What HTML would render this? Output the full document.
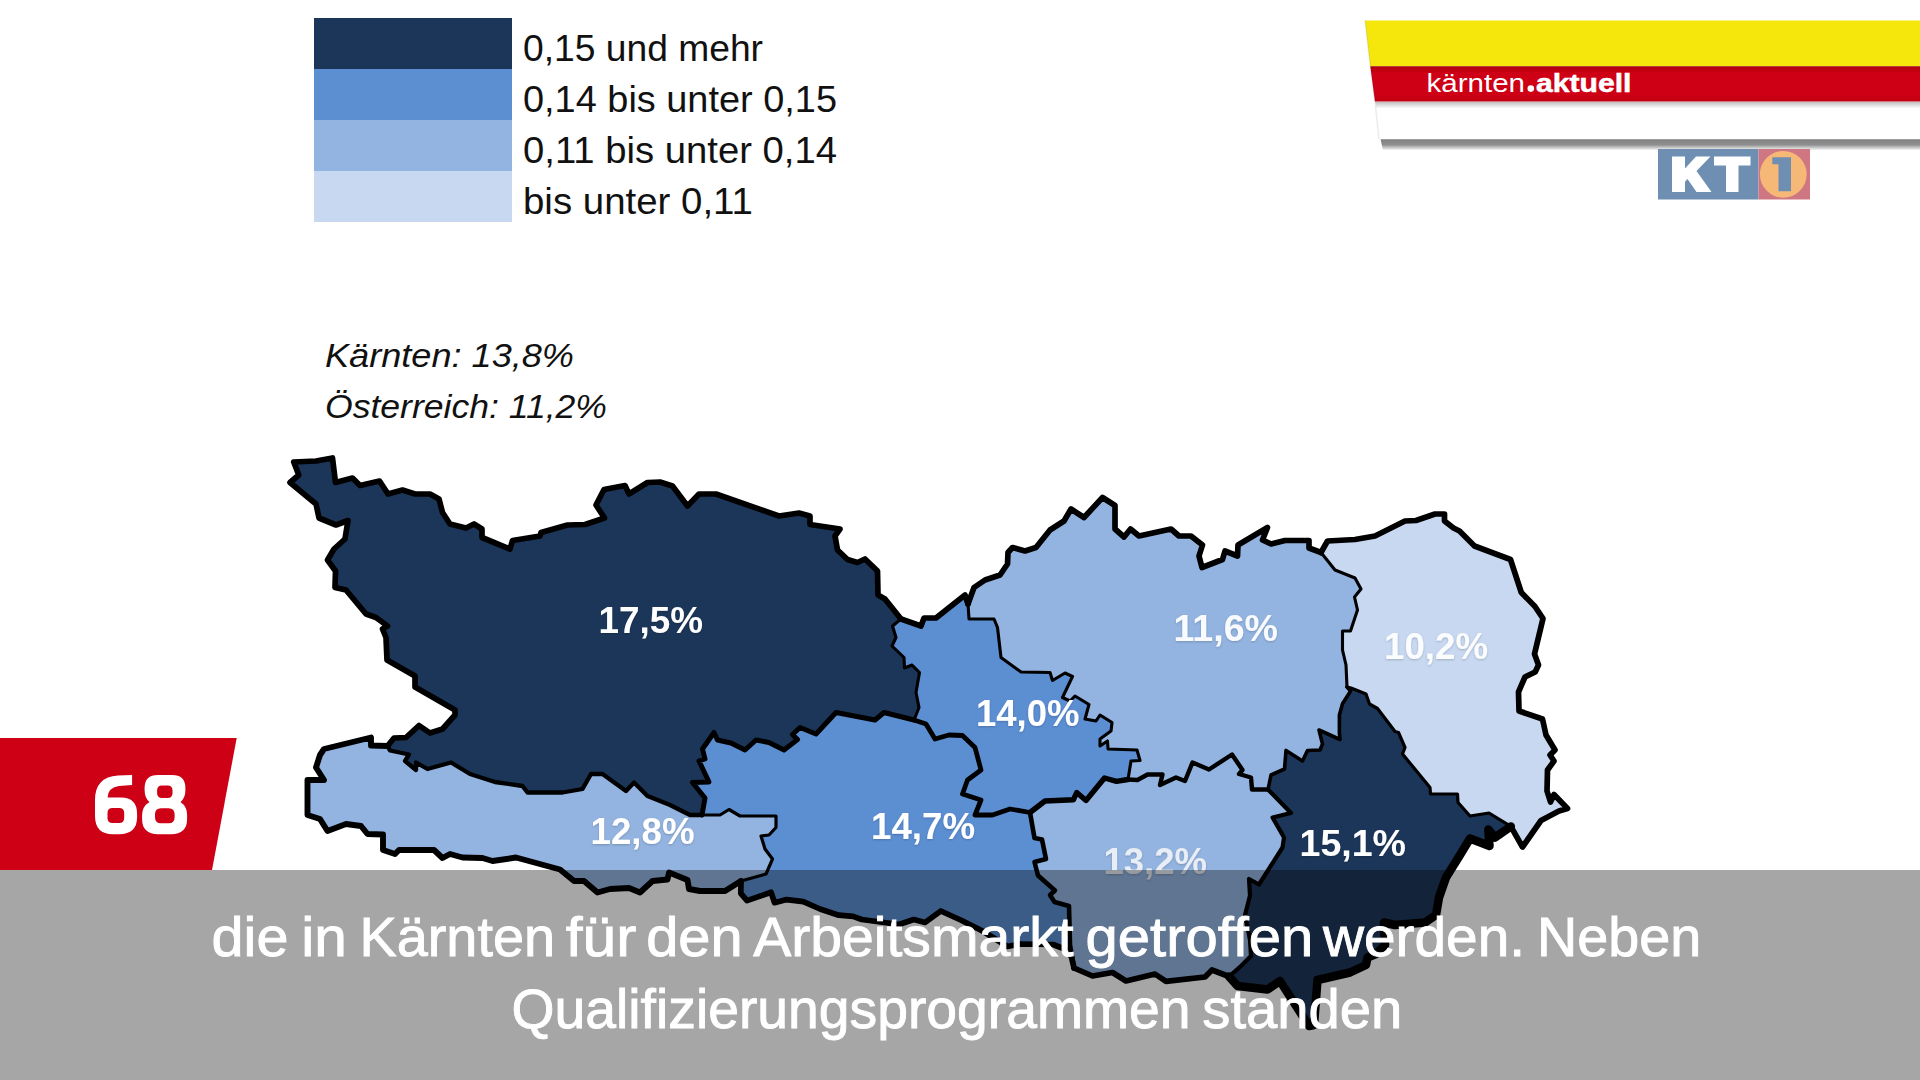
<!DOCTYPE html>
<html><head><meta charset="utf-8"><title>kärnten.aktuell</title>
<style>
html,body{margin:0;padding:0;background:#fff;}
body{width:1920px;height:1080px;position:relative;overflow:hidden;font-family:"Liberation Sans",sans-serif;}
svg{position:absolute;left:0;top:0;}
text{font-family:"Liberation Sans",sans-serif;}
.lbl{paint-order:stroke;}
#overlay{position:absolute;left:0;top:870px;width:1920px;height:210px;background:rgba(0,0,0,0.35);}
</style></head><body>
<svg id="main" width="1920" height="1080" viewBox="0 0 1920 1080">
<defs>
<linearGradient id="shd" x1="0" y1="0" x2="0" y2="1"><stop offset="0" stop-color="#000" stop-opacity="0.5"/><stop offset="0.5" stop-color="#000" stop-opacity="0.44"/><stop offset="1" stop-color="#000" stop-opacity="0"/></linearGradient>
<linearGradient id="shd2" x1="0" y1="0" x2="0" y2="1"><stop offset="0" stop-color="#000" stop-opacity="0.25"/><stop offset="1" stop-color="#000" stop-opacity="0"/></linearGradient>
<linearGradient id="redg" x1="0" y1="0" x2="0" y2="1"><stop offset="0" stop-color="#a8000c"/><stop offset="0.18" stop-color="#ce0016"/><stop offset="0.8" stop-color="#ce0016"/><stop offset="1" stop-color="#be0010"/></linearGradient>
<filter id="ts" x="-5%" y="-20%" width="110%" height="140%"><feDropShadow dx="0" dy="1" stdDeviation="1.2" flood-color="#000" flood-opacity="0.2"/></filter>
</defs>
<!-- legend -->
<rect x="314" y="18" width="198" height="51.5" fill="#1c3659"/>
<rect x="314" y="69" width="198" height="51.5" fill="#5c8ed2"/>
<rect x="314" y="120" width="198" height="51.5" fill="#93b4e0"/>
<rect x="314" y="171" width="198" height="51" fill="#c7d8f0"/>
<g font-size="36" fill="#111">
<text x="523" y="60.7" textLength="240" lengthAdjust="spacingAndGlyphs">0,15 und mehr</text>
<text x="523" y="112" textLength="314" lengthAdjust="spacingAndGlyphs">0,14 bis unter 0,15</text>
<text x="523" y="163" textLength="314" lengthAdjust="spacingAndGlyphs">0,11 bis unter 0,14</text>
<text x="523" y="214" textLength="230" lengthAdjust="spacingAndGlyphs">bis unter 0,11</text>
</g>
<g font-size="33" font-style="italic" fill="#111">
<text x="325" y="367" textLength="249" lengthAdjust="spacingAndGlyphs">Kärnten: 13,8%</text>
<text x="325" y="418.3" textLength="282" lengthAdjust="spacingAndGlyphs">Österreich: 11,2%</text>
</g>
<!-- map -->
<g id="map">
<polygon points="387.5,746 394,738 406,737.5 419,725.5 430,733 442.5,729 455,715 455,710 415,687 415,676 387,660 386,637.5 382.5,629 387.5,626 376,617.5 366,614 346,590 335,587.5 335.5,571 327.5,560 334,549 345,539 348,520.5 336,525 319,518 316,504 290,482.5 298.75,475 293.75,462 316,461 332.5,458 335.5,482.5 352.5,478 360,485.5 379.5,481 388,494 402.5,490 415,494 430,494 439,499 442.5,512.5 450,524 466,528 474,524 482,529 482,537.5 510,549 512.5,540.5 540,536 541,532.5 567.5,525 585,524.5 604.5,518 596,505 604,489.5 625,485.5 629,494 647.5,482.5 660,482 672.5,486 687.5,506 699,494 716,494 779,516 799,513 810,516 810,524.5 840,529 835,536 837.5,550 847.5,559.5 857.5,562.5 865,559 877.5,571 878,595 885,599 901,619 901,619 892.5,626 896,637.5 892,646 904,657.5 904.5,668 912,665 919.5,672.5 916,692.5 919,707.5 914,720 914,720 884,712.5 875,720 836,712.5 816,734 800,727.5 792.5,734.5 797.5,739.5 784,750 769,742.5 756,740 745,750 731,743 717.5,740 714,732.5 702.5,749 705,759 699,761 709,782 692.5,782.5 705,798 702,815 702,815 690,815 670,805 647.5,796 634,782.5 626,791 602.5,774 591,774 582.5,789 562.5,792.5 527.5,792.5 522.5,786 495,782 470,774 451,762.5 427.5,769 416,762.5 416,770 405,761 409,754.5 390,750.5 387.5,746" fill="#1c3659" stroke="#1c3659" stroke-width="1"/>
<polygon points="741,881 725,891 700,891 689,889 687.5,880 669,872.5 667.5,879.5 652.5,881 640,892.5 629,888 610,889 597.5,892.5 584,881 574,881 560,869.5 516,857.5 492.5,861 482.5,858 462.5,857.5 450,854 442.5,858 434,850 399,850 395,854 383,850 383,834.5 367.5,834 361,826 346,824 327.5,831 320,819 307.5,815 307.5,780 324,780 316,767.5 320,755 324,749 371,737.5 371,745.5 387.5,746 387.5,746 390,750.5 409,754.5 405,761 416,770 416,762.5 427.5,769 451,762.5 470,774 495,782 522.5,786 527.5,792.5 562.5,792.5 582.5,789 591,774 602.5,774 626,791 634,782.5 647.5,796 670,805 690,815 702,815 702,815 720,815 729,809.5 740,816 776,816 776,827.5 769,835 761,836 765,849 772.5,859 766,874 741,881" fill="#93b4e0" stroke="#93b4e0" stroke-width="1"/>
<polygon points="702,815 705,798 692.5,782.5 709,782 699,761 705,759 702.5,749 714,732.5 717.5,740 731,743 745,750 756,740 769,742.5 784,750 797.5,739.5 792.5,734.5 800,727.5 816,734 836,712.5 875,720 884,712.5 914,720 914,720 926,724 935,739 949,735 962.5,735.5 975,747.5 981,770 967.5,780 962.5,794 981,800 975,815 992.5,815 1010,809 1030,812.5 1030,812.5 1034.5,838 1042,839.5 1046,859 1034.5,862 1038,875.5 1055,890.5 1050,895 1054.5,902 1069,906 1070,945 1074,968 1074,968 1071.5,957 1066,949.5 1053,944.5 1020,944 1007.5,946.5 982.5,931 961.7,920.5 940.8,911 925,922.5 913.75,919.5 899,924.5 861.7,919.5 853,916.3 838.75,915.2 820,909 803.3,901.7 786.7,899.6 774.6,902.7 771,892.3 747,900.6 740.8,893.3 741,881 741,881 766,874 772.5,859 765,849 761,836 769,835 776,827.5 776,816 740,816 729,809.5 720,815 702,815" fill="#5c8ed2" stroke="#5c8ed2" stroke-width="1"/>
<polygon points="901,619 921,626 924,618 936,618 965,595 968,604 968,604 969,619 994,619 997.5,627.5 1001,657.5 1021,672 1050,672.5 1052.5,680.5 1065,673 1072.5,676.5 1062.5,697.5 1070,701 1075,696 1089,704.5 1085,719 1096,721 1100,715 1112,722.5 1111,731 1100,739 1100,746 1107.5,741 1108,749 1137,750 1140,760.5 1131,761 1128,779.5 1128,779.5 1116.5,781.3 1104.5,778 1086,800.5 1076.7,792.5 1073.5,799.7 1045,801 1030,812.5 1030,812.5 1010,809 992.5,815 975,815 981,800 962.5,794 967.5,780 981,770 975,747.5 962.5,735.5 949,735 935,739 926,724 914,720 914,720 919,707.5 916,692.5 919.5,672.5 912,665 904.5,668 904,657.5 892,646 896,637.5 892.5,626 901,619" fill="#5c8ed2" stroke="#5c8ed2" stroke-width="1"/>
<polygon points="968,604 974,587.5 985,580 1000,575 1007.5,564 1008,552.5 1012.5,547.5 1025,551 1036,547.5 1050,530 1064,521 1071,509 1084,517.5 1102.5,497.5 1115,505.5 1115,529 1124,537 1130.5,529 1139,536 1171,529 1179,536 1191,536 1202.5,545 1199,556 1202,567.5 1222.5,559.5 1225,551 1237.5,556 1238,545 1267.5,527.5 1262.5,540 1271,544 1285,540.5 1309,540.5 1309,548 1321,552.5 1321,552.5 1335,570 1355,578 1361,589 1354.5,597 1357.5,610 1350.5,631 1342.5,631 1342.5,650 1346,665 1347,687 1347,687 1350.6,691 1342.5,703.75 1339.4,715 1339.4,733 1340,739.5 1319,730 1322.5,744 1320,750 1307.5,750.5 1302.5,761 1286,750.5 1284.5,769 1271,775 1268,789.5 1268,789.5 1252,789.5 1251,777.5 1239,774 1242.5,770 1232,754.5 1209,769.5 1192.5,762.5 1185,781 1176,777.5 1160,785 1162.5,774.5 1147.5,774.5 1137.5,780 1128,779.5 1128,779.5 1131,761 1140,760.5 1137,750 1108,749 1107.5,741 1100,746 1100,739 1111,731 1112,722.5 1100,715 1096,721 1085,719 1089,704.5 1075,696 1070,701 1062.5,697.5 1072.5,676.5 1065,673 1052.5,680.5 1050,672.5 1021,672 1001,657.5 997.5,627.5 994,619 969,619 968,604" fill="#93b4e0" stroke="#93b4e0" stroke-width="1"/>
<polygon points="1321,552.5 1327.5,541 1355,539.5 1375,536 1405,521 1416,520.5 1435,514 1444.5,514 1444.5,521 1453.5,528 1459.5,531 1474.5,546 1510.5,559.5 1521.3,592.5 1535,606.5 1543,618.5 1534.5,654 1538.5,665 1535.2,672 1525,677 1518.5,692 1519,711 1542.5,719 1546,735 1555,750 1550,755 1554,761 1547.5,770 1547,791 1550.5,802 1554,794.5 1567.5,808.5 1559,811 1541,820.5 1522.5,847 1510.8,826.4 1510.8,826.4 1489,813 1470,816 1458,802.5 1457.5,794 1430.5,794 1430,787.5 1402.5,754 1405,747.5 1398.5,732.5 1395,731.5 1377.5,708.5 1369.5,704 1366,694 1351,688 1347,687 1347,687 1346,665 1342.5,650 1342.5,631 1350.5,631 1357.5,610 1354.5,597 1361,589 1355,578 1335,570 1321,552.5" fill="#c7d8f0" stroke="#c7d8f0" stroke-width="1"/>
<polygon points="1347,687 1351,688 1366,694 1369.5,704 1377.5,708.5 1395,731.5 1398.5,732.5 1405,747.5 1402.5,754 1430,787.5 1430.5,794 1457.5,794 1458,802.5 1470,816 1489,813 1510.8,826.4 1510.8,826.4 1495,837.5 1488.3,829.5 1489.5,846 1470,838.5 1460,855 1446,877.5 1439,897.5 1436,915 1425,922.5 1395,925 1384,922.5 1385,945 1376,954 1367.5,957.5 1366,965 1350,972.5 1317.5,980 1314,1025 1309,1026 1280,981 1267.5,989.5 1237.5,986 1229,976.5 1229,976.5 1241,966 1251,956 1250,940 1245,915 1250,895.5 1249,879 1259,884.5 1282.5,847.5 1284,837.5 1272.5,817.5 1291,813 1268,789.5 1268,789.5 1271,775 1284.5,769 1286,750.5 1302.5,761 1307.5,750.5 1320,750 1322.5,744 1319,730 1340,739.5 1339.4,733 1339.4,715 1342.5,703.75 1350.6,691 1347,687" fill="#1c3659" stroke="#1c3659" stroke-width="1"/>
<polygon points="1030,812.5 1045,801 1073.5,799.7 1076.7,792.5 1086,800.5 1104.5,778 1116.5,781.3 1128,779.5 1128,779.5 1137.5,780 1147.5,774.5 1162.5,774.5 1160,785 1176,777.5 1185,781 1192.5,762.5 1209,769.5 1232,754.5 1242.5,770 1239,774 1251,777.5 1252,789.5 1268,789.5 1268,789.5 1291,813 1272.5,817.5 1284,837.5 1282.5,847.5 1259,884.5 1249,879 1250,895.5 1245,915 1250,940 1251,956 1241,966 1229,976.5 1229,976.5 1212,970 1205,977 1166,981.3 1155,974 1126,981 1112.5,972.5 1092.5,976 1074,968 1074,968 1070,945 1069,906 1054.5,902 1050,895 1055,890.5 1038,875.5 1034.5,862 1046,859 1042,839.5 1034.5,838 1030,812.5" fill="#93b4e0" stroke="#93b4e0" stroke-width="1"/>
<polyline points="387.5,746 394,738 406,737.5 419,725.5 430,733 442.5,729 455,715 455,710 415,687 415,676 387,660 386,637.5 382.5,629 387.5,626 376,617.5 366,614 346,590 335,587.5 335.5,571 327.5,560 334,549 345,539 348,520.5 336,525 319,518 316,504 290,482.5 298.75,475 293.75,462 316,461 332.5,458 335.5,482.5 352.5,478 360,485.5 379.5,481 388,494 402.5,490 415,494 430,494 439,499 442.5,512.5 450,524 466,528 474,524 482,529 482,537.5 510,549 512.5,540.5 540,536 541,532.5 567.5,525 585,524.5 604.5,518 596,505 604,489.5 625,485.5 629,494 647.5,482.5 660,482 672.5,486 687.5,506 699,494 716,494 779,516 799,513 810,516 810,524.5 840,529 835,536 837.5,550 847.5,559.5 857.5,562.5 865,559 877.5,571 878,595 885,599 901,619" fill="none" stroke="#000" stroke-width="5.7" stroke-linejoin="round" stroke-linecap="round"/>
<polyline points="901,619 921,626 924,618 936,618 965,595 968,604" fill="none" stroke="#000" stroke-width="5.7" stroke-linejoin="round" stroke-linecap="round"/>
<polyline points="968,604 974,587.5 985,580 1000,575 1007.5,564 1008,552.5 1012.5,547.5 1025,551 1036,547.5 1050,530 1064,521 1071,509 1084,517.5 1102.5,497.5 1115,505.5 1115,529 1124,537 1130.5,529 1139,536 1171,529 1179,536 1191,536 1202.5,545 1199,556 1202,567.5 1222.5,559.5 1225,551 1237.5,556 1238,545 1267.5,527.5 1262.5,540 1271,544 1285,540.5 1309,540.5 1309,548 1321,552.5" fill="none" stroke="#000" stroke-width="5.7" stroke-linejoin="round" stroke-linecap="round"/>
<polyline points="1321,552.5 1327.5,541 1355,539.5 1375,536 1405,521 1416,520.5 1435,514 1444.5,514 1444.5,521 1453.5,528 1459.5,531 1474.5,546 1510.5,559.5 1521.3,592.5 1535,606.5 1543,618.5 1534.5,654 1538.5,665 1535.2,672 1525,677 1518.5,692 1519,711 1542.5,719 1546,735 1555,750 1550,755 1554,761 1547.5,770 1547,791 1550.5,802 1554,794.5 1567.5,808.5 1559,811 1541,820.5 1522.5,847 1510.8,826.4" fill="none" stroke="#000" stroke-width="5.7" stroke-linejoin="round" stroke-linecap="round"/>
<polyline points="1510.8,826.4 1495,837.5 1488.3,829.5 1489.5,846 1470,838.5 1460,855 1446,877.5 1439,897.5 1436,915 1425,922.5 1395,925 1384,922.5 1385,945 1376,954 1367.5,957.5 1366,965 1350,972.5 1317.5,980 1314,1025 1309,1026 1280,981 1267.5,989.5 1237.5,986 1229,976.5" fill="none" stroke="#000" stroke-width="8.5" stroke-linejoin="round" stroke-linecap="round"/>
<polyline points="1229,976.5 1212,970 1205,977 1166,981.3 1155,974 1126,981 1112.5,972.5 1092.5,976 1074,968" fill="none" stroke="#000" stroke-width="5.7" stroke-linejoin="round" stroke-linecap="round"/>
<polyline points="1074,968 1071.5,957 1066,949.5 1053,944.5 1020,944 1007.5,946.5 982.5,931 961.7,920.5 940.8,911 925,922.5 913.75,919.5 899,924.5 861.7,919.5 853,916.3 838.75,915.2 820,909 803.3,901.7 786.7,899.6 774.6,902.7 771,892.3 747,900.6 740.8,893.3 741,881" fill="none" stroke="#000" stroke-width="5.7" stroke-linejoin="round" stroke-linecap="round"/>
<polyline points="741,881 725,891 700,891 689,889 687.5,880 669,872.5 667.5,879.5 652.5,881 640,892.5 629,888 610,889 597.5,892.5 584,881 574,881 560,869.5 516,857.5 492.5,861 482.5,858 462.5,857.5 450,854 442.5,858 434,850 399,850 395,854 383,850 383,834.5 367.5,834 361,826 346,824 327.5,831 320,819 307.5,815 307.5,780 324,780 316,767.5 320,755 324,749 371,737.5 371,745.5 387.5,746" fill="none" stroke="#000" stroke-width="5.9" stroke-linejoin="round" stroke-linecap="round"/>
<polyline points="387.5,746 390,750.5 409,754.5 405,761 416,770 416,762.5 427.5,769 451,762.5 470,774 495,782 522.5,786 527.5,792.5 562.5,792.5 582.5,789 591,774 602.5,774 626,791 634,782.5 647.5,796 670,805 690,815 702,815" fill="none" stroke="#000" stroke-width="4.3" stroke-linejoin="round" stroke-linecap="round"/>
<polyline points="702,815 705,798 692.5,782.5 709,782 699,761 705,759 702.5,749 714,732.5 717.5,740 731,743 745,750 756,740 769,742.5 784,750 797.5,739.5 792.5,734.5 800,727.5 816,734 836,712.5 875,720 884,712.5 914,720" fill="none" stroke="#000" stroke-width="5" stroke-linejoin="round" stroke-linecap="round"/>
<polyline points="901,619 892.5,626 896,637.5 892,646 904,657.5 904.5,668 912,665 919.5,672.5 916,692.5 919,707.5 914,720" fill="none" stroke="#000" stroke-width="3.1" stroke-linejoin="round" stroke-linecap="round"/>
<polyline points="702,815 720,815 729,809.5 740,816 776,816 776,827.5 769,835 761,836 765,849 772.5,859 766,874 741,881" fill="none" stroke="#000" stroke-width="3.2" stroke-linejoin="round" stroke-linecap="round"/>
<polyline points="914,720 926,724 935,739 949,735 962.5,735.5 975,747.5 981,770 967.5,780 962.5,794 981,800 975,815 992.5,815 1010,809 1030,812.5" fill="none" stroke="#000" stroke-width="4.8" stroke-linejoin="round" stroke-linecap="round"/>
<polyline points="968,604 969,619 994,619 997.5,627.5 1001,657.5 1021,672 1050,672.5 1052.5,680.5 1065,673 1072.5,676.5 1062.5,697.5 1070,701 1075,696 1089,704.5 1085,719 1096,721 1100,715 1112,722.5 1111,731 1100,739 1100,746 1107.5,741 1108,749 1137,750 1140,760.5 1131,761 1128,779.5" fill="none" stroke="#000" stroke-width="3.1" stroke-linejoin="round" stroke-linecap="round"/>
<polyline points="1030,812.5 1045,801 1073.5,799.7 1076.7,792.5 1086,800.5 1104.5,778 1116.5,781.3 1128,779.5" fill="none" stroke="#000" stroke-width="5.4" stroke-linejoin="round" stroke-linecap="round"/>
<polyline points="1030,812.5 1034.5,838 1042,839.5 1046,859 1034.5,862 1038,875.5 1055,890.5 1050,895 1054.5,902 1069,906 1070,945 1074,968" fill="none" stroke="#000" stroke-width="4.6" stroke-linejoin="round" stroke-linecap="round"/>
<polyline points="1128,779.5 1137.5,780 1147.5,774.5 1162.5,774.5 1160,785 1176,777.5 1185,781 1192.5,762.5 1209,769.5 1232,754.5 1242.5,770 1239,774 1251,777.5 1252,789.5 1268,789.5" fill="none" stroke="#000" stroke-width="4.4" stroke-linejoin="round" stroke-linecap="round"/>
<polyline points="1321,552.5 1335,570 1355,578 1361,589 1354.5,597 1357.5,610 1350.5,631 1342.5,631 1342.5,650 1346,665 1347,687" fill="none" stroke="#000" stroke-width="3.1" stroke-linejoin="round" stroke-linecap="round"/>
<polyline points="1347,687 1350.6,691 1342.5,703.75 1339.4,715 1339.4,733 1340,739.5 1319,730 1322.5,744 1320,750 1307.5,750.5 1302.5,761 1286,750.5 1284.5,769 1271,775 1268,789.5" fill="none" stroke="#000" stroke-width="3.6" stroke-linejoin="round" stroke-linecap="round"/>
<polyline points="1347,687 1351,688 1366,694 1369.5,704 1377.5,708.5 1395,731.5 1398.5,732.5 1405,747.5 1402.5,754 1430,787.5 1430.5,794 1457.5,794 1458,802.5 1470,816 1489,813 1510.8,826.4" fill="none" stroke="#000" stroke-width="3.2" stroke-linejoin="round" stroke-linecap="round"/>
<polyline points="1268,789.5 1291,813 1272.5,817.5 1284,837.5 1282.5,847.5 1259,884.5 1249,879 1250,895.5 1245,915 1250,940 1251,956 1241,966 1229,976.5" fill="none" stroke="#000" stroke-width="4.2" stroke-linejoin="round" stroke-linecap="round"/>
</g>
<g filter="url(#ts)">
<text x="598.5" y="632.5" textLength="104.5" lengthAdjust="spacingAndGlyphs" fill="#fff" font-size="37.2" font-weight="700" class="lbl">17,5%</text>
<text x="1173.5" y="640.5" textLength="104.5" lengthAdjust="spacingAndGlyphs" fill="#f8fafd" font-size="37.2" font-weight="700" class="lbl">11,6%</text>
<text x="1384.0" y="658.75" textLength="104.0" lengthAdjust="spacingAndGlyphs" fill="#fafcfe" font-size="37.2" font-weight="700" class="lbl">10,2%</text>
<text x="976.0" y="725.5" textLength="103.5" lengthAdjust="spacingAndGlyphs" fill="#fff" font-size="37.2" font-weight="700" class="lbl">14,0%</text>
<text x="871.0" y="838.75" textLength="104.0" lengthAdjust="spacingAndGlyphs" fill="#fff" font-size="37.2" font-weight="700" class="lbl">14,7%</text>
<text x="590.5" y="843.75" textLength="104.0" lengthAdjust="spacingAndGlyphs" fill="#fff" font-size="37.2" font-weight="700" class="lbl">12,8%</text>
<text x="1103.5" y="873.75" textLength="103.5" lengthAdjust="spacingAndGlyphs" fill="#e9eef6" font-size="37.2" font-weight="700" class="lbl">13,2%</text>
<text x="1299.5" y="855.5" textLength="106.5" lengthAdjust="spacingAndGlyphs" fill="#fff" font-size="37.2" font-weight="700" class="lbl">15,1%</text>
</g>
<!-- banner -->
<polygon points="1380.5,139 1920,139 1920,150.5 1383,150.5" fill="url(#shd)"/>
<polygon points="1365,20.5 1920,20.5 1920,66.3 1370.3,66.3" fill="#f5e60b"/>
<polygon points="1370.3,66.3 1920,66.3 1920,101.7 1375,101.7" fill="url(#redg)"/>
<polygon points="1375,101.7 1920,101.7 1920,139.2 1379,139.2" fill="#fff"/>
<polygon points="1375.5,102 1920,102 1920,108.5 1376.3,108.5" fill="url(#shd2)"/>
<polyline points="1365,20.5 1370.3,66.3 1375,101.7 1379,139.2" fill="none" stroke="#000" stroke-opacity="0.08" stroke-width="1.5"/>
<text x="1426.5" y="91.7" font-size="25" fill="#fff" textLength="98.5" lengthAdjust="spacingAndGlyphs">kärnten</text>
<circle cx="1530.8" cy="88.6" r="3.3" fill="#fff"/>
<text x="1536" y="91.7" font-size="25" font-weight="700" fill="#fff" stroke="#fff" stroke-width="0.5" textLength="95.5" lengthAdjust="spacingAndGlyphs">aktuell</text>
<!-- KT1 -->
<rect x="1658" y="149" width="100.5" height="50.5" fill="#6f8fb2"/>
<rect x="1758.5" y="149" width="51.5" height="50.5" fill="#cf7683"/>
<circle cx="1783.3" cy="174.3" r="23.4" fill="#f6b877"/>
<path d="M1672,156.6 h13 v12 l11,-12 h14.5 l-14,14.5 l15,21 h-15 l-9,-13 l-2.5,2.6 v10.4 h-13 z" fill="#fff"/>
<path d="M1714,156.6 h36.5 v9 h-12 v26.5 h-12.5 v-26.5 h-12 z" fill="#fff"/>
<path d="M1772.3,157.3 h18.7 v34 h-12.5 v-27 h-6.2 z" fill="#6f8fb2"/>
<!-- 68 -->
<polygon points="0,738 236.7,738 212,870 0,870" fill="#ce0016"/>
<path fill="#fff" fill-rule="evenodd" d="M132.1,775 L132.1,785 L119,786 Q108,787.5 107.6,797.5 L121,797.5 Q137.1,797.5 137.1,814 L137.1,817 Q137.1,834.2 119,834.2 L113,834.2 Q95,834.2 95,816 L95,800 Q95,777 118,775.5 Z M112.5,807.9 H119.2 Q124.2,807.9 124.2,812.9 V817.9 Q124.2,822.9 119.2,822.9 H112.5 Q107.5,822.9 107.5,817.9 V812.9 Q107.5,807.9 112.5,807.9 Z"/>
<path fill="#fff" fill-rule="evenodd" d="M158,775 H172 Q185.4,775 185.4,788 V790 Q185.4,798 180.5,802 Q187.1,806.5 187.1,815 V819 Q187.1,834.2 171,834.2 H158.2 Q142.1,834.2 142.1,819 V815 Q142.1,806.5 149.5,802 Q144.6,798 144.6,790 V788 Q144.6,775 158,775 Z M162.1,785.4 H167.5 Q172.5,785.4 172.5,790.4 V792.9 Q172.5,797.9 167.5,797.9 H162.1 Q157.1,797.9 157.1,792.9 V790.4 Q157.1,785.4 162.1,785.4 Z M161,808.3 H168.6 Q174.6,808.3 174.6,814.3 V817.3 Q174.6,823.3 168.6,823.3 H161 Q155,823.3 155,817.3 V814.3 Q155,808.3 161,808.3 Z"/>
</svg>
<div id="overlay"></div>
<svg id="subs" width="1920" height="1080" viewBox="0 0 1920 1080">
<g font-size="56" fill="#fff" stroke="#fff" stroke-width="0.9">
<text x="211.6" y="956.3" textLength="76.8" lengthAdjust="spacingAndGlyphs">die</text>
<text x="301.2" y="956.3" textLength="45.6" lengthAdjust="spacingAndGlyphs">in</text>
<text x="359.5" y="956.3" textLength="195.5" lengthAdjust="spacingAndGlyphs">Kärnten</text>
<text x="565.8" y="956.3" textLength="70.5" lengthAdjust="spacingAndGlyphs">für</text>
<text x="646.2" y="956.3" textLength="96.4" lengthAdjust="spacingAndGlyphs">den</text>
<text x="753.2" y="956.3" textLength="320.5" lengthAdjust="spacingAndGlyphs">Arbeitsmarkt</text>
<text x="1085.6" y="956.3" textLength="227.7" lengthAdjust="spacingAndGlyphs">getroffen</text>
<text x="1323.0" y="956.3" textLength="202.0" lengthAdjust="spacingAndGlyphs">werden.</text>
<text x="1536.9" y="956.3" textLength="164.3" lengthAdjust="spacingAndGlyphs">Neben</text>
<text x="511.6" y="1028" textLength="678.9" lengthAdjust="spacingAndGlyphs">Qualifizierungsprogrammen</text>
<text x="1202.3" y="1028" textLength="200.0" lengthAdjust="spacingAndGlyphs">standen</text>
</g>
</svg>
</body></html>
